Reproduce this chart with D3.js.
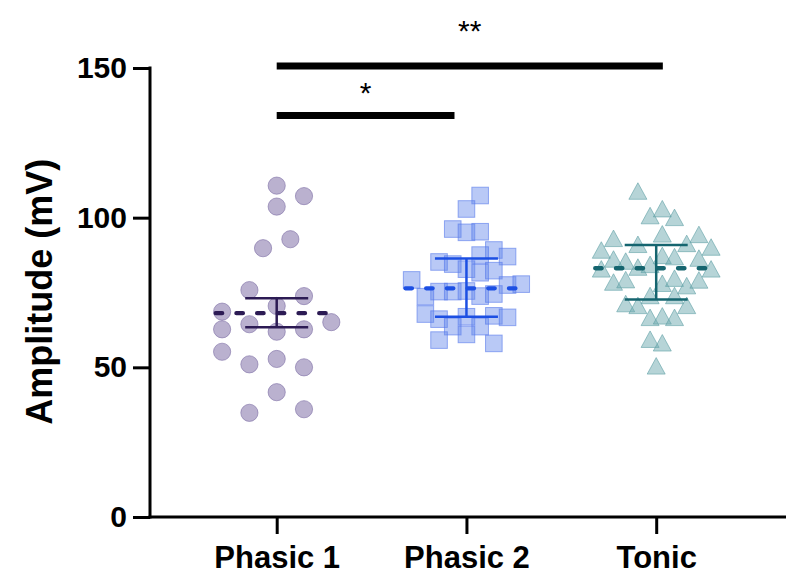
<!DOCTYPE html>
<html>
<head>
<meta charset="utf-8">
<script src="https://cdn.jsdelivr.net/npm/d3@7"></script>
<style>
  body { margin: 0; background: #fff; }
  svg { display: block; font-family: "Liberation Sans", Arial, sans-serif; }
</style>
</head>
<body>
<script>
"use strict";

// categories and tick labels
var categories = ["Phasic 1", "Phasic 2", "Tonic"];
var yTicks = [0, 50, 100, 150];

// amplitudes (mV), with the swarm slot of each point
var phasic1 = [110.7, 107.2, 103.7, 92.8, 89.8, 75.8, 73.8, 70.5, 68.6, 65.1, 64.4,
               62.7, 61.9, 62.7, 55.2, 51.0, 52.8, 50.0, 41.7, 34.8, 36.0];
var phasic1Slots = [0, 1, 0, 0.5, -0.5, -1, 1, 0, -2, 2, -1,
                    -2, 0, 1, -2, -1, 0, 1, 0, -1, 1];

var phasic2 = [107.4, 102.9, 96.2, 95.1, 95.3, 89.2, 87.5, 87.0, 85.2, 84.5, 82.8,
               81.6, 82.3, 79.2, 77.5, 77.8, 75.3, 75.3, 75.5, 73.8, 74.5, 73.6,
               67.8, 66.1, 66.9, 63.6, 63.6, 67.2, 66.7, 61.0, 59.1, 58.0];
var phasic2Slots = [1, 0, -1, 0, 1, 2, 1, 3, -2, -1, 0,
                    1, 2, -4, 3, 4, -2, -1, 0, 1, 2, -3,
                    -3, -2, 0, -1, 1, 2, 3, 0, -2, 2];

var tonic = [108.9, 103.0, 100.7, 100.1, 94.6, 93.1, 94.4, 91.1, 91.4, 90.2, 89.2,
             87.4, 87.0, 86.2, 85.5, 86.5, 82.9, 83.5, 84.4, 82.9, 78.5, 79.3,
             78.1, 79.8, 77.3, 79.2, 74.0, 74.0, 71.3, 70.7, 70.7, 66.7, 67.2,
             66.7, 59.4, 58.2, 50.5];
var tonicSlots = [-1.5, 0.5, -0.5, 1.5, 0.5, -3.5, 3.5, -1.5, 2.5, 4.5, -4.5,
                  0.5, 1.5, -3.5, -2.5, 3.5, -4.5, -1.5, -0.5, 4.5, -3.5, -2.5,
                  0.5, 1.5, 2.5, 3.5, -0.5, 1.5, -2.5, -1.5, 2.5, -0.5, 0.5,
                  1.5, -0.5, 0.5, 0];

// summary lines as drawn: mean and error bar ends
var means = [68.1, 76.4, 83.1];
var errHigh = [73.1, 86.4, 90.9];
var errLow = [63.4, 66.9, 72.7];

// significance brackets: from/to are category indices
var sigFrom = [0, 0];
var sigTo = [0.937, 2.035];
var sigLevel = [134.1, 150.7];
var sigTextLevel = [138.3, 159.1];
var sigLabel = ["*", "**"];

var groups = [
  {values: phasic1, slots: phasic1Slots, shape: "circle", slot: 27.3,
   fill: "rgb(140,125,175)", fillOp: 0.6, stroke: "rgb(125,110,165)", line: "#2c1b54"},
  {values: phasic2, slots: phasic2Slots, shape: "square", slot: 13.7,
   fill: "rgb(100,135,235)", fillOp: 0.45, stroke: "rgb(85,120,235)", line: "#1c4fe3"},
  {values: tonic, slots: tonicSlots, shape: "triangle", slot: 12.2,
   fill: "rgb(110,170,175)", fillOp: 0.5, stroke: "rgb(95,160,165)", line: "#15656f"}
];

var width = 786, height = 579;

var svg = d3.select("body").append("svg")
  .attr("width", width)
  .attr("height", height);

var y = d3.scaleLinear().domain([0, 150]).range([517, 68]);
var x = d3.scalePoint().domain(categories).range([276.7, 656.2]);
var xi = d3.scaleLinear().domain([0, 2]).range([276.7, 656.2]);

// y axis
var yAxis = svg.append("g")
  .attr("transform", "translate(150,0)")
  .call(d3.axisLeft(y).tickValues(yTicks).tickSize(17).tickSizeOuter(0).tickPadding(6));
yAxis.select(".domain").remove();
yAxis.selectAll(".tick line").attr("stroke", "#000").attr("stroke-width", 3);
yAxis.selectAll(".tick text")
  .attr("font-size", 30).attr("font-weight", "bold").attr("fill", "#000")
  .attr("font-family", "Liberation Sans, Arial, sans-serif");

svg.append("line")
  .attr("x1", 150).attr("x2", 150)
  .attr("y1", y(0) + 1.5).attr("y2", y(150) - 1.5)
  .attr("stroke", "#000").attr("stroke-width", 3);

// x axis
var xAxis = svg.append("g")
  .attr("transform", "translate(0," + y(0) + ")")
  .call(d3.axisBottom(x).tickSize(17).tickSizeOuter(0).tickPadding(12));
xAxis.select(".domain").remove();
xAxis.selectAll(".tick line").attr("stroke", "#000").attr("stroke-width", 3);
xAxis.selectAll(".tick text")
  .attr("font-size", 31).attr("font-weight", "bold").attr("fill", "#000")
  .attr("font-family", "Liberation Sans, Arial, sans-serif");

svg.append("line")
  .attr("x1", 148.5).attr("x2", width)
  .attr("y1", y(0)).attr("y2", y(0))
  .attr("stroke", "#000").attr("stroke-width", 3);

// axis title
svg.append("text")
  .attr("transform", "translate(52," + 291.7 + ") rotate(-90)")
  .attr("text-anchor", "middle")
  .attr("font-size", 36)
  .attr("font-weight", "bold")
  .text("Amplitude (mV)");

// points
var triangle = function(cx, cy) {
  var w = 18, h = 16.5;
  return "M" + cx + "," + (cy - h / 2) +
         "L" + (cx + w / 2) + "," + (cy + h / 2) +
         "L" + (cx - w / 2) + "," + (cy + h / 2) + "Z";
};

groups.forEach(function(g, i) {
  var cx = x(categories[i]);
  var pts = g.values.map(function(v, j) { return {v: v, s: g.slots[j]}; });
  var layer = svg.append("g")
    .attr("fill", g.fill).attr("fill-opacity", g.fillOp)
    .attr("stroke", g.stroke).attr("stroke-opacity", 0.6).attr("stroke-width", 1);

  if (g.shape === "circle") {
    layer.selectAll("circle").data(pts).enter().append("circle")
      .attr("cx", function(d) { return cx + d.s * g.slot; })
      .attr("cy", function(d) { return y(d.v); })
      .attr("r", 8.6);
  } else if (g.shape === "square") {
    layer.selectAll("rect").data(pts).enter().append("rect")
      .attr("x", function(d) { return cx + d.s * g.slot - 8.3; })
      .attr("y", function(d) { return y(d.v) - 8.3; })
      .attr("width", 16.6).attr("height", 16.6);
  } else {
    layer.selectAll("path").data(pts).enter().append("path")
      .attr("d", function(d) { return triangle(cx + d.s * g.slot, y(d.v)); });
  }
});

// mean and error bars
groups.forEach(function(g, i) {
  var cx = x(categories[i]);
  var lg = svg.append("g").attr("stroke", g.line).attr("fill", "none");
  lg.append("line")
    .attr("x1", cx).attr("x2", cx)
    .attr("y1", y(errLow[i])).attr("y2", y(errHigh[i]))
    .attr("stroke-width", 2.5);
  [errLow[i], errHigh[i]].forEach(function(v) {
    lg.append("line")
      .attr("x1", cx - 31.5).attr("x2", cx + 31.5)
      .attr("y1", y(v)).attr("y2", y(v))
      .attr("stroke-width", 2.5);
  });
  lg.append("line")
    .attr("x1", cx - 61).attr("x2", cx + 50)
    .attr("y1", y(means[i])).attr("y2", y(means[i]))
    .attr("stroke-width", 4.3)
    .attr("stroke-linecap", "round")
    .attr("stroke-dasharray", "6.5 14.2");
});

// significance bars
sigLevel.forEach(function(lv, k) {
  svg.append("line")
    .attr("x1", xi(sigFrom[k])).attr("x2", xi(sigTo[k]))
    .attr("y1", y(lv)).attr("y2", y(lv))
    .attr("stroke", "#000").attr("stroke-width", 7);
  svg.append("text")
    .attr("x", (xi(sigFrom[k]) + xi(sigTo[k])) / 2)
    .attr("y", y(sigTextLevel[k]))
    .attr("text-anchor", "middle")
    .attr("font-size", 30)
    .text(sigLabel[k]);
});
</script>
</body>
</html>
